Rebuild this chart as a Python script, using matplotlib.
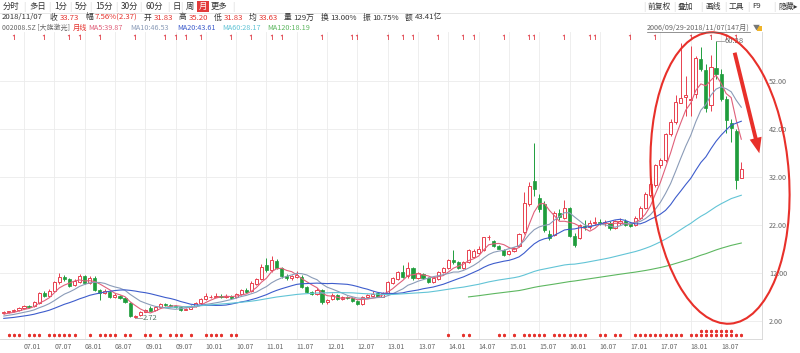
import matplotlib
matplotlib.use("Agg")
import matplotlib.pyplot as plt
import numpy as np
import pandas as pd
from matplotlib.patches import Ellipse, Rectangle, FancyArrowPatch
from matplotlib.path import Path
from matplotlib.transforms import blended_transform_factory

plt.rcParams["font.family"] = ["Noto Sans CJK SC", "DejaVu Sans"]

W, H = 800, 353


def fx(x):
    return x / W


def fy(y):
    return 1 - y / H


# Monthly bars 2006/09 .. 2018/11 (147 months), forward-adjusted prices.
opens = [
    3.6, 3.9, 4.0, 4.2, 4.8, 5.2, 5.1, 5.8, 7.8, 7.2,
    8.2, 10.1, 11.1, 10.7, 9.5, 10.2, 11.3, 10.0, 11.0, 8.4,
    7.9, 8.0, 7.0, 7.3, 6.8, 5.8, 2.85, 3.2, 3.9, 4.7,
    4.2, 5.0, 5.6, 5.3, 5.2, 4.9, 4.3, 4.6, 5.2, 5.7,
    6.5, 6.9, 7.1, 7.3, 7.0, 7.2, 6.9, 7.6, 8.5, 8.2,
    9.8, 10.8, 13.6, 12.6, 14.6, 13.0, 11.4, 10.9, 11.2, 11.2,
    9.0, 8.1, 7.7, 8.4, 5.9, 6.5, 7.4, 6.6, 6.9, 6.7,
    6.1, 5.6, 7.0, 7.3, 7.8, 7.1, 7.9, 10.0, 10.8, 12.2,
    11.3, 13.0, 11.0, 11.8, 10.9, 10.2, 10.8, 12.2, 13.0, 14.7,
    14.2, 13.1, 14.2, 15.4, 16.2, 16.8, 19.4, 18.6, 17.6, 16.8,
    15.9, 16.6, 17.6, 20.5, 26.4, 31.2, 27.7, 26.4, 20.2, 20.0,
    24.4, 23.5, 25.5, 19.8, 19.3, 21.8, 21.5, 22.4, 22.6, 22.4,
    22.4, 21.4, 22.4, 22.9, 22.2, 21.9, 23.4, 25.6, 28.2, 30.4,
    34.5, 35.6, 40.9, 43.5, 47.5, 48.6, 48.0, 49.3, 56.5, 54.3,
    47.0, 54.8, 53.5, 48.3, 43.3, 41.6, 31.83,
]
highs = [
    4.0, 4.1, 4.4, 5.0, 5.3, 5.4, 6.1, 8.0, 8.3, 8.6,
    10.4, 12.0, 11.6, 10.9, 10.8, 11.8, 11.5, 11.4, 11.3, 8.7,
    8.6, 8.2, 7.8, 7.5, 7.0, 6.0, 3.2, 4.0, 4.5, 5.2,
    5.1, 5.8, 5.8, 5.6, 5.4, 5.1, 4.8, 5.3, 6.0, 6.8,
    7.8, 7.5, 7.9, 7.6, 7.6, 7.4, 7.8, 8.6, 8.9, 10.3,
    11.0, 13.9, 15.2, 15.6, 15.0, 13.3, 11.8, 11.6, 12.4, 11.5,
    9.3, 8.3, 8.9, 8.6, 6.6, 7.8, 7.6, 7.3, 7.2, 6.9,
    6.3, 7.2, 7.6, 8.2, 8.0, 8.0, 10.3, 11.2, 12.5, 13.6,
    14.2, 13.3, 12.2, 12.0, 11.1, 11.1, 12.4, 13.2, 14.9, 16.8,
    14.5, 14.4, 16.9, 17.0, 17.6, 19.6, 20.0, 18.9, 17.9, 17.0,
    16.8, 17.4, 20.4, 28.8, 31.0, 39.0, 28.5, 27.0, 21.0, 25.0,
    25.3, 27.2, 25.8, 20.3, 22.2, 23.0, 23.1, 23.6, 23.3, 23.0,
    22.9, 23.1, 23.5, 23.3, 22.5, 23.8, 25.9, 28.8, 30.9, 34.8,
    36.0, 41.2, 44.0, 49.0, 59.9, 53.0, 59.3, 57.2, 59.1, 55.5,
    57.5, 60.28, 54.6, 48.9, 44.0, 42.0, 35.20,
]
lows = [
    3.5, 3.7, 3.9, 4.1, 4.6, 4.8, 5.0, 5.6, 7.0, 7.0,
    8.0, 9.8, 10.4, 9.1, 9.3, 9.9, 9.8, 9.8, 8.2, 6.4,
    7.6, 6.7, 6.8, 6.6, 5.7, 2.9, 2.72, 3.1, 3.8, 4.0,
    4.0, 4.9, 5.1, 5.0, 4.7, 4.1, 4.2, 4.5, 5.0, 5.5,
    6.3, 6.7, 6.9, 6.8, 6.8, 6.5, 6.7, 7.4, 7.8, 8.0,
    9.4, 10.6, 12.2, 12.3, 12.8, 11.0, 10.6, 10.5, 11.0, 8.8,
    7.9, 7.4, 7.4, 5.6, 5.6, 6.3, 6.4, 6.4, 6.6, 6.0,
    5.3, 5.4, 6.8, 7.1, 6.9, 6.9, 7.8, 9.7, 10.5, 11.0,
    11.0, 10.6, 10.8, 10.8, 9.9, 10.0, 10.5, 12.0, 12.8, 13.8,
    12.8, 12.9, 14.0, 15.2, 15.9, 16.6, 18.9, 17.4, 16.9, 15.6,
    15.7, 16.4, 17.4, 20.2, 26.0, 28.0, 24.8, 20.6, 18.8, 19.8,
    23.0, 23.2, 19.5, 17.5, 19.0, 21.0, 21.2, 22.0, 21.9, 21.8,
    21.0, 21.2, 22.1, 21.8, 21.5, 21.7, 23.2, 25.3, 27.9, 30.0,
    33.9, 35.2, 40.5, 43.0, 47.4, 44.7, 44.7, 48.5, 54.0, 45.5,
    45.8, 52.5, 47.8, 41.2, 39.3, 29.6, 31.83,
]
closes = [
    3.9, 4.0, 4.2, 4.8, 5.1, 5.0, 5.9, 7.8, 7.2, 8.3,
    10.1, 11.1, 10.7, 9.3, 10.4, 11.3, 10.0, 11.0, 8.4, 7.9,
    8.2, 6.9, 7.5, 6.8, 5.9, 3.0, 3.05, 3.9, 4.3, 4.1,
    5.0, 5.6, 5.3, 5.2, 4.9, 4.3, 4.6, 5.1, 5.8, 6.6,
    7.2, 7.1, 7.2, 7.0, 7.3, 6.8, 7.6, 8.4, 8.1, 10.0,
    10.7, 13.2, 12.6, 14.8, 13.1, 11.3, 10.9, 11.3, 11.5, 9.1,
    8.1, 7.6, 8.4, 5.9, 6.4, 7.5, 6.6, 7.0, 6.8, 6.2,
    5.5, 7.0, 7.4, 7.7, 7.1, 7.9, 10.1, 10.9, 12.2, 11.2,
    13.0, 10.9, 11.9, 11.0, 10.2, 10.9, 12.2, 13.0, 14.7, 14.2,
    13.1, 14.2, 16.7, 16.6, 17.1, 19.4, 19.6, 17.7, 17.0, 15.8,
    16.5, 17.2, 20.1, 26.5, 30.2, 29.6, 25.4, 20.9, 19.2, 24.6,
    23.7, 25.5, 19.8, 17.8, 21.9, 21.5, 22.5, 22.7, 22.4, 22.6,
    21.3, 22.8, 22.9, 22.0, 21.8, 23.4, 25.6, 28.4, 30.5, 34.5,
    35.6, 40.9, 43.5, 47.7, 48.5, 49.0, 48.3, 56.7, 54.5, 46.4,
    55.0, 53.45, 48.3, 43.8, 42.16, 31.36, 33.73,
]
# Closes before the visible range (2004/06 .. 2006/08), only used for the MAs.
pre_closes = [
    1.9, 1.8, 1.7, 1.8, 1.9, 1.8, 1.7, 1.8, 2.0, 2.1,
    2.0, 1.9, 1.8, 1.9, 2.1, 2.2, 2.3, 2.2, 2.4, 2.5,
    2.6, 2.8, 2.9, 3.1, 3.3, 3.4, 3.5,
]

ma_periods = [5, 10, 20, 60, 120]
ma_colors = ["#e0607a", "#8b9cb8", "#3d5ccc", "#62c4d6", "#5db760"]
ma_values = ["39.87", "46.53", "43.61", "28.17", "18.19"]

tick_labels = [
    "07.01", "07.07", "08.01", "08.07", "09.01", "09.07", "10.01", "10.07",
    "11.01", "11.07", "12.01", "12.07", "13.01", "13.07", "14.01", "14.07",
    "15.01", "15.07", "16.01", "16.07", "17.01", "17.07", "18.01", "18.07",
]
price_ticks = [2, 12, 22, 32, 42, 52]

flag_bars = [2, 8, 13, 15, 19, 26, 32, 34, 36, 39, 45, 49, 53, 55, 63, 69, 70,
             76, 79, 81, 86, 91, 93, 99, 104, 105, 111, 116, 117, 124, 129, 136,
             140, 143, 145]
star_bars = [1, 2, 3, 5, 6, 7, 9, 10, 11, 12, 13, 14, 17, 19, 20, 21, 22, 24,
             25, 28, 29, 31, 33, 34, 35, 37, 40, 41, 42, 43, 45, 46, 88, 91, 92,
             98, 99, 101, 103, 104, 105, 106, 107, 109, 110, 111, 112, 113, 114,
             115, 118, 119, 121, 122, 125, 126, 127, 128, 129, 130, 131, 132,
             133, 134, 136, 137, 138, 139, 140, 141, 142, 143, 144, 145, 146]
star_bars_2 = [138, 139, 140, 141, 142, 143, 144]

info_date = "2018/11/07"
info_labels = ["收", "幅", "开", "高", "低", "均", "量", "换", "振", "额"]
info_values = ["33.73", "7.56%(2.37)", "31.83", "35.20", "31.83", "33.63",
               "129万", "13.00%", "10.75%", "43.41亿"]

toolbar_left = ["分时", "多日", "1分", "5分", "15分", "30分", "60分", "日", "周", "月", "更多"]
toolbar_right = ["前复权", "叠加", "画线", "工具", "F9", "隐藏▸"]

UP = "#e8414f"
DOWN = "#1f9d3c"
RED = "#e5322d"
TXT = "#333333"
GREY = "#666666"

opens = np.array(opens)
highs = np.array(highs)
lows = np.array(lows)
closes = np.array(closes)
bars = np.arange(len(closes))

all_close = pd.Series(pre_closes + list(closes))
mas = [all_close.rolling(p).mean().to_numpy()[len(pre_closes):] for p in ma_periods]

fig = plt.figure(figsize=(W / 100, H / 100), dpi=100)
fig.patch.set_facecolor("white")

# price axes; 4.8 px per yuan, 5.05 px per month
ax = fig.add_axes([0, fy(339), fx(762), (339 - 32) / H])
ax.set_xlim(-0.75, 150.1)
ax.set_ylim(2 - (339 - 321) / 4.8, 2 + (321 - 32) / 4.8)

up = closes >= opens
dn = ~up
ax.vlines(bars[up], lows[up], highs[up], color=UP, lw=0.7, zorder=3)
ax.vlines(bars[dn], lows[dn], highs[dn], color=DOWN, lw=0.7, zorder=3)
ax.bar(bars[up], np.maximum(closes[up] - opens[up], 0.1), bottom=opens[up], width=0.62,
       facecolor="white", edgecolor=UP, linewidth=0.7, zorder=4)
ax.bar(bars[dn], np.maximum(opens[dn] - closes[dn], 0.1), bottom=closes[dn], width=0.62,
       facecolor=DOWN, edgecolor=DOWN, linewidth=0.5, zorder=4)

for vals, col in zip(mas, ma_colors):
    ax.plot(bars, vals, color=col, lw=0.8, zorder=5)

# high / low markers
hi = int(np.argmax(highs))
lo = int(np.argmin(lows))
ax.plot([hi, hi + 1.6], [highs[hi], highs[hi]], color="#999999", lw=0.6, zorder=6)
ax.text(hi + 1.8, highs[hi], f"{highs[hi]:.2f}", fontsize=5.5, color=GREY, va="center", zorder=6)
ax.plot([lo, lo + 1.4], [lows[lo], lows[lo]], color="#999999", lw=0.6, zorder=6)
ax.text(lo + 1.6, lows[lo], f"{lows[lo]:.2f}", fontsize=5.5, color="#557766", va="center", zorder=6)

tick_bars = [4 + 6 * k for k in range(len(tick_labels))]
ax.set_xticks(tick_bars)
ax.set_xticklabels(tick_labels, ha="left", fontsize=5, color=GREY)
ax.set_yticks(price_ticks)
ax.set_yticklabels([f"{v:.2f}" for v in price_ticks], fontsize=5.2, color=GREY)
ax.yaxis.tick_right()
ax.tick_params(axis="both", length=0)
ax.tick_params(axis="x", pad=3)
ax.tick_params(axis="y", pad=5)
ax.grid(True, color="#ebebeb", lw=0.6, zorder=0)
for side in ["top", "left"]:
    ax.spines[side].set_visible(False)
for side in ["right", "bottom"]:
    ax.spines[side].set_color("#d4d4d4")
    ax.spines[side].set_linewidth(0.6)

# event flags on top and asterisks at the bottom
bt = blended_transform_factory(ax.transData, ax.transAxes)
flag = Path([(-0.6, 0.55), (0, 1), (0, -1)], [Path.MOVETO, Path.LINETO, Path.LINETO])
ax.plot(flag_bars, [0.985] * len(flag_bars), ls="none", marker=flag, ms=3.6,
        mec="#e0404a", mfc="none", mew=0.6, transform=bt, clip_on=False)
ax.plot(star_bars, [0.012] * len(star_bars), ls="none", marker=(6, 2, 0), ms=2.4,
        mec=RED, mew=0.5, transform=bt, clip_on=False)
ax.plot(star_bars_2, [0.027] * len(star_bars_2), ls="none", marker=(6, 2, 0), ms=2.4,
        mec=RED, mew=0.5, transform=bt, clip_on=False)

# toolbar row
tb_x = [3, 29, 54, 75, 95, 121, 145, 173, 186, 199, 211]
for i, (lab, x) in enumerate(zip(toolbar_left, tb_x)):
    if lab == "月":
        fig.add_artist(Rectangle((fx(x - 2), fy(12)), fx(12), 11 / H, transform=fig.transFigure,
                                 facecolor="#e23b3b", edgecolor="none"))
        fig.text(fx(x + 4), fy(6.5), lab, fontsize=6, color="white", ha="center", va="center")
    else:
        fig.text(fx(x), fy(6.5), lab, fontsize=6, color=TXT, ha="left", va="center")
    if i < len(toolbar_left) - 1 and toolbar_left[i + 1] != "月" and lab != "月":
        fig.text(fx(tb_x[i + 1] - 5), fy(6.5), "|", fontsize=6, color="#d0d0d0", ha="center", va="center")
fig.text(fx(233), fy(6.5), "|", fontsize=6, color="#d0d0d0", ha="center", va="center")
tr_x = [648, 678, 705, 729, 752, 778]
for i, (lab, x) in enumerate(zip(toolbar_right, tr_x)):
    fig.text(fx(x), fy(6.5), lab, fontsize=5.6, color=TXT, ha="left", va="center")
    fig.text(fx(x - 4), fy(6.5), "|", fontsize=6, color="#d0d0d0", ha="center", va="center")
fig.add_artist(plt.Line2D([0, 1], [fy(13), fy(13)], color="#e2e2e2", lw=0.6))

# quote row
r = fig.canvas.get_renderer()
t = fig.text(fx(2), fy(17.5), info_date, fontsize=5.6, color=TXT, va="center")
x = 2 + t.get_window_extent(r).width + 7
for i, (lab, val) in enumerate(zip(info_labels, info_values)):
    t = fig.text(fx(x), fy(17.5), lab, fontsize=5.6, color=TXT, va="center")
    x += t.get_window_extent(r).width + 2
    t = fig.text(fx(x), fy(17.5), val, fontsize=5.6, color=RED if i < 6 else TXT, va="center")
    x += t.get_window_extent(r).width + 6

# MA legend row
fig.text(fx(2), fy(28), "002008.SZ [大族激光]", fontsize=5.0, color=GREY, va="center")
fig.text(fx(73), fy(28), "月线", fontsize=5.2, color=RED, va="center")
legend_x = [88, 130, 177, 222, 267]
for p, v, col, x in zip(ma_periods, ma_values, ma_colors, legend_x):
    fig.text(fx(x), fy(28), f"MA{p}:{v}", fontsize=5.2, color=col, va="center")

t = fig.text(fx(647), fy(28), "2006/09/29-2018/11/07(147月)", fontsize=5.2, color=GREY, va="center")
bb = t.get_window_extent(r)
fig.add_artist(plt.Line2D([fx(647), fx(647 + bb.width)], [fy(32), fy(32)], color=GREY, lw=0.5))
fig.text(fx(648 + bb.width + 2), fy(28), "▼", fontsize=5, color="#777777", va="center")
fig.add_artist(Rectangle((fx(757), fy(31)), fx(5), 5 / H, transform=fig.transFigure,
                         facecolor="#f0b429", edgecolor="none"))

# hand-drawn annotation: ellipse and arrow
fig.add_artist(Ellipse((7.20, (H - 178) / 100), 1.38, 2.92, angle=4,
                       transform=fig.dpi_scale_trans, fill=False, edgecolor="#e8302a", lw=1.5))
fig.add_artist(FancyArrowPatch((7.34, (H - 50) / 100), (7.60, (H - 156) / 100),
                               transform=fig.dpi_scale_trans,
                               arrowstyle="simple,head_width=1.1,head_length=1.4,tail_width=0.35",
                               mutation_scale=8, color="#e8302a", lw=0))

fig.savefig("out.png", dpi=100)
